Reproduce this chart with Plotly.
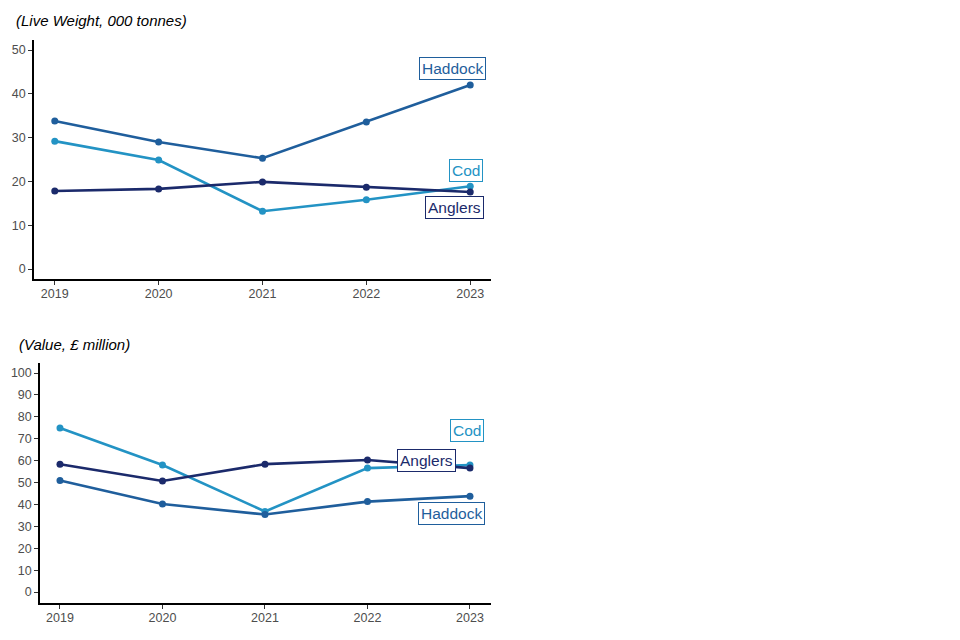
import plotly.graph_objects as go

years = [2019, 2020, 2021, 2022, 2023]

weight_haddock = [33.8, 29.0, 25.3, 33.6, 42.0]
weight_cod = [29.2, 24.9, 13.2, 15.8, 18.9]
weight_anglers = [17.8, 18.3, 19.9, 18.7, 17.6]

value_cod = [74.9, 58.0, 36.8, 56.6, 58.0]
value_anglers = [58.4, 50.7, 58.4, 60.3, 56.6]
value_haddock = [50.9, 40.2, 35.4, 41.3, 43.8]

weight_ticks = [0, 10, 20, 30, 40, 50]
value_ticks = [0, 10, 20, 30, 40, 50, 60, 70, 80, 90, 100]

colors = {"Haddock": "#1f5e9c", "Cod": "#2393c4", "Anglers": "#1b2a6b"}

W, H = 960, 640
OFF = 8  # page body margin offset
fig = go.Figure()

def add(name, ys, xa, ya):
    fig.add_trace(go.Scatter(
        x=years, y=ys, mode="lines+markers", name=name,
        line=dict(color=colors[name], width=2.6),
        marker=dict(color=colors[name], size=7),
        xaxis=xa, yaxis=ya, showlegend=False, hoverinfo="skip"))

add("Haddock", weight_haddock, "x", "y")
add("Cod", weight_cod, "x", "y")
add("Anglers", weight_anglers, "x", "y")
add("Cod", value_cod, "x2", "y2")
add("Haddock", value_haddock, "x2", "y2")
add("Anglers", value_anglers, "x2", "y2")

def label(name, ys, xref, yref, xs, ysft):
    fig.add_annotation(
        x=years[-1], y=ys[-1], xref=xref, yref=yref, text=name,
        showarrow=False, xshift=xs, yshift=ysft,
        font=dict(family="Liberation Sans, Arial", size=15.5, color=colors[name]),
        bgcolor="white", bordercolor=colors[name], borderwidth=1, borderpad=2)

label("Haddock", weight_haddock, "x", "y", -18, 17)
label("Cod", weight_cod, "x", "y", -4, 16)
label("Anglers", weight_anglers, "x", "y", -16, -16)
label("Cod", value_cod, "x2", "y2", -3, 35)
label("Anglers", value_anglers, "x2", "y2", -43, 8)
label("Haddock", value_haddock, "x2", "y2", -18, -17)

axis_common = dict(
    showgrid=False, zeroline=False, showline=True, linecolor="black", linewidth=1.5,
    ticks="outside", ticklen=4, tickcolor="#333", tickwidth=1,
    tickfont=dict(family="Liberation Sans, Arial", size=12.5, color="#4d4d4d"),
)

def px_x(v):
    return (v - OFF) / W

def px_y(v):
    return 1 - (v - OFF) / H

fig.update_layout(
    width=W, height=H, margin=dict(l=0, r=0, t=0, b=0),
    plot_bgcolor="white", paper_bgcolor="white",
    xaxis=dict(domain=[px_x(34), px_x(491)], range=[2018.8, 2023.2], tickvals=years,
               anchor="y", ticklabelstandoff=-2, **axis_common),
    yaxis=dict(domain=[px_y(279), px_y(40)], range=[-2.28, 52.3], tickvals=weight_ticks,
               anchor="x", **axis_common),
    xaxis2=dict(domain=[px_x(40), px_x(491)], range=[2018.805, 2023.205], tickvals=years,
                anchor="y2", ticklabelstandoff=-2, **axis_common),
    yaxis2=dict(domain=[px_y(603), px_y(363)], range=[-5.0, 104.6], tickvals=value_ticks,
                anchor="x2", **axis_common),
)

fig.add_annotation(x=px_x(14), y=px_y(20), xref="paper", yref="paper", xanchor="left",
                   yanchor="middle", showarrow=False,
                   text="<i>(Live Weight, 000 tonnes)</i>",
                   font=dict(family="Liberation Sans, Arial", size=15, color="black"))
fig.add_annotation(x=px_x(17), y=px_y(344), xref="paper", yref="paper", xanchor="left",
                   yanchor="middle", showarrow=False,
                   text="<i>(Value, £ million)</i>",
                   font=dict(family="Liberation Sans, Arial", size=15, color="black"))

fig.write_html("out.html")
